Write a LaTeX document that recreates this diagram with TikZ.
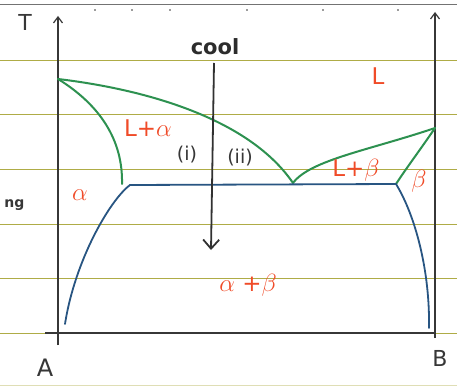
\documentclass[tikz,border=0pt]{standalone}
\usepackage{fontspec}
\setmainfont{DejaVu Sans}
\usetikzlibrary{arrows.meta}
\definecolor{ruled}{RGB}{175,172,70}
\definecolor{liq}{RGB}{45,145,80}
\definecolor{sol}{RGB}{40,85,130}
\definecolor{lab}{RGB}{240,75,40}
\definecolor{ink}{RGB}{55,55,55}
\tikzset{
  ruleline/.style={ruled, line width=0.9pt},
  axisline/.style={ink, line width=1.2pt},
  greenline/.style={liq, line width=2pt, line cap=round},
  blueline/.style={sol, line width=1.8pt, line cap=round},
  phase/.style={text=lab, font=\fontsize{23}{25}\selectfont},
  marklab/.style={text=ink, font=\fontsize{19}{21}\selectfont},
}
\begin{document}
\begin{tikzpicture}[x=1pt,y=-1pt]
\useasboundingbox (0,0) rectangle (457,387);
\fill[white] (0,0) rectangle (457,387);
% ruled paper
\draw[ink!70, line width=1pt] (0,5) -- (457,5);
\foreach \yy in {60,114,169,224,278,333}{\draw[ruleline] (0,\yy) -- (457,\yy);}
\draw[ruled!40, line width=0.8pt] (0,385) -- (457,385);
\foreach \xx in {95,132,170,247,323,398}{\fill[ink] (\xx,10) circle (0.8);}
% axes
\coordinate (Abot) at (58,345);
\coordinate (Atop) at (58,16);
\coordinate (Bbot) at (435,338);
\coordinate (Btop) at (435,12);
\coordinate (baseL) at (45,333);
\coordinate (baseR) at (435,333);
\draw[axisline, -{Straight Barb[length=6pt,width=9pt]}] (Abot) -- (Atop);
\draw[axisline, -{Straight Barb[length=6pt,width=9pt]}] (Bbot) -- (Btop);
\draw[axisline] (baseL) -- (baseR);
\node[text=ink, font=\fontsize{22}{24}\selectfont] (T) at (25,22) {T};
\node[text=ink, font=\fontsize{24}{26}\selectfont] (A) at (45,368) {A};
\node[text=ink, font=\fontsize{22}{24}\selectfont] (B) at (440,358) {B};
\node[text=ink, font=\bfseries\fontsize{14}{16}\selectfont, anchor=east] (ng) at (28,205) {ng};
% key points
\coordinate (TA) at (58,79);
\coordinate (TB) at (435,128);
\coordinate (E) at (293,183);
\coordinate (aE) at (122,184);
\coordinate (bE) at (396,184);
\coordinate (aLow) at (65,324);
\coordinate (bLow) at (429,328);
% liquidus
\draw[greenline] (TA) .. controls (150,90) and (250,120) .. (E);
\draw[greenline] (E) .. controls (310,160) and (370,150) .. (TB);
% solidus
\draw[greenline] (TA) .. controls (100,105) and (123,140) .. (aE);
\draw[greenline] (TB) .. controls (420,150) and (405,170) .. (bE);
% eutectic line and solvus
\draw[blueline] (bE) -- (130,185) .. controls (110,200) and (75,260) .. (aLow);
\draw[blueline] (bE) .. controls (415,215) and (430,270) .. (bLow);
% cooling arrow
\coordinate (ctop) at (214,63);
\coordinate (cbot) at (211,250);
\draw[ink!90!black, line width=1.8pt, -{Straight Barb[length=9pt,width=16pt]}] (ctop) -- (cbot);
\node[text=ink!80!black, font=\bfseries\fontsize{21}{23}\selectfont] (cool) at (215,47) {cool};
% labels
\node[phase] (Lreg) at (378,76) {L};
\node[phase] (LA) at (148,128) {L+$\alpha$};
\node[phase] (LB) at (356,170) {L+$\beta$};
\node[phase] (Breg) at (419,181) {$\beta$};
\node[phase] (Areg) at (80,195) {$\alpha$};
\node[phase] (AB) at (248,285) {$\alpha$ +$\beta$};
\node[marklab] (i) at (187,155) {(i)};
\node[marklab] (ii) at (240,158) {(ii)};
\end{tikzpicture}
\end{document}
